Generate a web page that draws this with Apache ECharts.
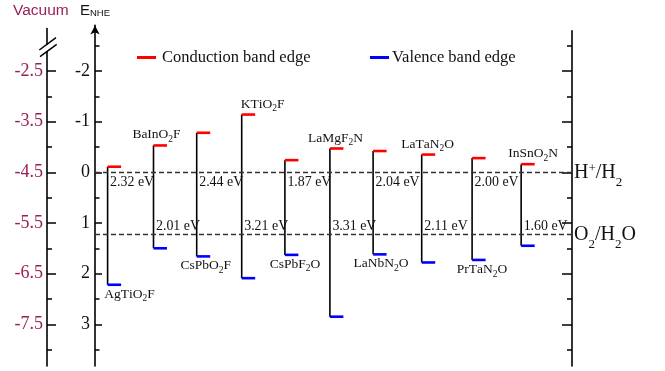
<!DOCTYPE html>
<html><head><meta charset="utf-8">
<script src="https://cdn.jsdelivr.net/npm/echarts@6/dist/echarts.min.js"></script>
<style>html,body{margin:0;padding:0;background:#fff}#c{width:665px;height:371px}</style>
</head><body><div id="c"></div>
<script>
// ---------------- data ----------------
const materials = ['AgTiO2F','BaInO2F','CsPbO2F','KTiO2F','CsPbF2O','LaMgF2N','LaNbN2O','LaTaN2O','PrTaN2O','InSnO2N'];
const xPos   = [0.28, 1.30, 2.26, 3.26, 4.22, 5.22, 6.18, 7.26, 8.38, 9.47];
const cbEdge = [-0.11, -0.53, -0.78, -1.14, -0.24, -0.47, -0.42, -0.35, -0.28, -0.16]; // E_NHE (V)
const vbEdge = [ 2.22,  1.50,  1.66,  2.09,  1.63,  2.85,  1.62,  1.78,  1.73,  1.45]; // E_NHE (V)
const gapEv  = [2.32, 2.01, 2.44, 3.21, 1.87, 3.31, 2.04, 2.11, 2.00, 1.60];
const redoxLevels = [0, 1.23];
const redoxNames  = ['H+/H2', 'O2/H2O'];
const nheTicks = [-2, -1, 0, 1, 2, 3];
const nheMinorTicks = [-2.5, -1.5, -0.5, 0.5, 1.5, 2.5, 3.5];
const vacuumTicks = [-2.5, -3.5, -4.5, -5.5, -6.5, -7.5];
const vacuumMinorTicks = [-3, -4, -5, -6, -7, -8];
const VAC_OFFSET = -4.5; // E_vac = -4.5 - E_NHE

// ---------------- style ----------------
const nameSide = ['below','above','below','above','below','above','below','above','below','above'];
const nameDx   = [22, 3, 9, 21, 10, 5.5, 8, 6, 10, 12];
const gapRow   = [0, 1, 0, 1, 0, 1, 0, 1, 0, 1];
const SERIF = "'Liberation Serif','Times New Roman',serif";
const SANS  = "'Liberation Sans',Arial,sans-serif";
const MAROON = '#9a1f57';
const RED = '#ff0000', BLUE = '#0000ff';
const Y0 = 172.3, K = 50.66, YMAX = 3.823;
const XMAX = 10.6;
function gridFor(min, left, width) {
  return {left: left, width: width, top: Y0 + K * min, height: K * (YMAX - min), containLabel: false};
}
const vacToNhe = v => VAC_OFFSET - v;
function fmtRedox(s) {
  return s.split('').map(ch => ch === '+' ? '{sup|+}' : (/\d/.test(ch) ? '{sub|' + ch + '}' : '{a|' + ch + '}')).join('');
}
function fmtName(s) {
  return s.split('').map(ch => /\d/.test(ch) ? '{s|' + ch + '}' : '{a|' + ch + '}').join('');
}

const chart = echarts.init(document.getElementById('c'), null, {renderer: 'canvas'});

const nameRich = {
  a: {fontFamily: SERIF, fontSize: 13.5, lineHeight: 19.2, verticalAlign: 'middle', fill: '#111'},
  s: {fontFamily: SERIF, fontSize: 9.5, lineHeight: 10, verticalAlign: 'bottom', fill: '#111'}
};

function renderFrame(params, api) {
  const i = params.dataIndex;
  const x = api.value(0);
  const pc = api.coord([x, api.value(1)]);
  const pv = api.coord([x, api.value(2)]);
  const yH = api.coord([x, redoxLevels[0]])[1];
  const yO = api.coord([x, redoxLevels[1]])[1];
  const gy = gapRow[i] === 0 ? yH + 10.5 : yO - 8;
  const above = nameSide[i] === 'above';
  return {
    type: 'group',
    children: [
      {type: 'line', shape: {x1: pc[0], y1: pc[1], x2: pv[0], y2: pv[1]}, style: {stroke: '#000', lineWidth: 1.6}},
      {type: 'text', style: {text: gapEv[i].toFixed(2) + ' eV', x: pc[0] + 2.5, y: gy, align: 'left', verticalAlign: 'middle',
        fontFamily: SERIF, fontSize: 13.9, fill: '#111'}},
      {type: 'text', style: {text: fmtName(materials[i]), rich: nameRich, x: pc[0] + nameDx[i],
        y: above ? pc[1] - 20.1 : pv[1] - 0.1, align: 'center', verticalAlign: 'top', fontFamily: SERIF, fontSize: 13.5, fill: '#111'}}
    ]
  };
}
function renderEdge(color) {
  return function (params, api) {
    const p = api.coord([api.value(0), api.value(1)]);
    return {type: 'line', shape: {x1: p[0], y1: p[1], x2: p[0] + 13.5, y2: p[1]}, style: {stroke: color, lineWidth: 2.6}};
  };
}

const NHE_MIN = -2.90, VAC_MIN = -2.84, RIGHT_MIN = -2.795;
const tickLine = {color: '#000', width: 1.5};
const axLine = {show: true, onZero: false, lineStyle: {color: '#000', width: 1.6}};
const noLine = {show: false, onZero: false};

const option = {
  animation: false,
  backgroundColor: '#fff',
  grid: [
    gridFor(NHE_MIN, 95, 477),
    gridFor(VAC_MIN, 47, 10),
    gridFor(RIGHT_MIN, 95, 477)
  ],
  xAxis: [
    {type: 'value', gridIndex: 0, min: 0, max: XMAX, show: false},
    {type: 'value', gridIndex: 1, min: 0, max: 1, show: false},
    {type: 'value', gridIndex: 2, min: 0, max: 1, show: false}
  ],
  yAxis: [
    { // NHE major
      type: 'value', gridIndex: 0, position: 'left', inverse: true, min: NHE_MIN, max: YMAX,
      splitLine: {show: false},
      axisLine: Object.assign({}, axLine, {symbol: ['none', 'arrow'], symbolSize: [7, 9]}),
      axisTick: {show: true, inside: true, length: 7, lineStyle: tickLine, customValues: nheTicks},
      axisLabel: {show: true, customValues: nheTicks, margin: 5, fontFamily: SERIF, fontSize: 18, color: '#111'}
    },
    { // NHE minor
      type: 'value', gridIndex: 0, position: 'left', inverse: true, min: NHE_MIN, max: YMAX,
      splitLine: {show: false}, axisLine: noLine,
      axisTick: {show: true, inside: true, length: 4.5, lineStyle: tickLine, customValues: nheMinorTicks},
      axisLabel: {show: false}
    },
    { // Vacuum major
      type: 'value', gridIndex: 1, position: 'left', inverse: true, min: VAC_MIN, max: YMAX,
      splitLine: {show: false},
      axisLine: axLine,
      axisTick: {show: true, inside: true, length: 9, lineStyle: tickLine, customValues: vacuumTicks.map(vacToNhe)},
      axisLabel: {show: true, customValues: vacuumTicks.map(vacToNhe), margin: 4, fontFamily: SERIF, fontSize: 18, color: MAROON,
        formatter: v => (VAC_OFFSET - v).toFixed(1)}
    },
    { // Vacuum minor
      type: 'value', gridIndex: 1, position: 'left', inverse: true, min: VAC_MIN, max: YMAX,
      splitLine: {show: false}, axisLine: noLine,
      axisTick: {show: true, inside: true, length: 5, lineStyle: tickLine, customValues: vacuumMinorTicks.map(vacToNhe)},
      axisLabel: {show: false}
    },
    { // right major
      type: 'value', gridIndex: 2, position: 'right', inverse: true, min: RIGHT_MIN, max: YMAX,
      splitLine: {show: false},
      axisLine: axLine,
      axisTick: {show: true, inside: true, length: 10, lineStyle: tickLine, customValues: nheTicks},
      axisLabel: {show: false}
    },
    { // right minor
      type: 'value', gridIndex: 2, position: 'right', inverse: true, min: RIGHT_MIN, max: YMAX,
      splitLine: {show: false}, axisLine: noLine,
      axisTick: {show: true, inside: true, length: 5, lineStyle: tickLine, customValues: nheMinorTicks},
      axisLabel: {show: false}
    }
  ],
  legend: [
    {data: ['Conduction band edge'], left: 137, top: 49, padding: 0, icon: 'rect', itemWidth: 19, itemHeight: 3,
      textStyle: {fontFamily: SERIF, fontSize: 16.5, color: '#111', padding: [0, 0, 0, 1]}, selectedMode: false},
    {data: ['Valence band edge'], left: 370, top: 49, padding: 0, icon: 'rect', itemWidth: 19, itemHeight: 3,
      textStyle: {fontFamily: SERIF, fontSize: 16.5, color: '#111', padding: [0, 0, 0, -2]}, selectedMode: false}
  ],
  series: [
    {
      name: 'redox', type: 'line', xAxisIndex: 0, yAxisIndex: 0, data: [], silent: true,
      markLine: {
        symbol: 'none', silent: true, animation: false,
        lineStyle: {type: [5, 3], color: '#333', width: 1.3},
        label: {show: true, position: 'end', distance: 2, offset: [0, 3.4], formatter: p => fmtRedox(p.name),
          rich: {
            a: {fontFamily: SERIF, fontSize: 20, lineHeight: 26.9, color: '#111', verticalAlign: 'top'},
            sup: {fontFamily: SERIF, fontSize: 13, lineHeight: 13, color: '#111', verticalAlign: 'top'},
            sub: {fontFamily: SERIF, fontSize: 13, lineHeight: 13, color: '#111', verticalAlign: 'bottom'}
          }},
        data: redoxLevels.map((v, i) => ({yAxis: v, name: redoxNames[i]}))
      }
    },
    {
      name: 'frame', type: 'custom', xAxisIndex: 0, yAxisIndex: 0, silent: true,
      data: xPos.map((x, i) => [x, cbEdge[i], vbEdge[i]]),
      encode: {x: 0, y: [1, 2]},
      renderItem: renderFrame, clip: false
    },
    {
      name: 'Conduction band edge', type: 'custom', xAxisIndex: 0, yAxisIndex: 0, itemStyle: {color: RED},
      data: xPos.map((x, i) => [x, cbEdge[i]]), encode: {x: 0, y: 1}, renderItem: renderEdge(RED), clip: false
    },
    {
      name: 'Valence band edge', type: 'custom', xAxisIndex: 0, yAxisIndex: 0, itemStyle: {color: BLUE},
      data: xPos.map((x, i) => [x, vbEdge[i]]), encode: {x: 0, y: 1}, renderItem: renderEdge(BLUE), clip: false
    }
  ],
  graphic: [
    {type: 'text', left: 13, top: 3, style: {text: 'Vacuum', fontFamily: SANS, fontSize: 15.5, fill: MAROON}},
    {type: 'text', left: 80, top: 3, style: {text: 'E{n|NHE}', fontFamily: SANS, fontSize: 15, fill: '#111',
      rich: {n: {fontFamily: SANS, fontSize: 9.5, fill: '#111', verticalAlign: 'bottom', lineHeight: 13}}}},
    {type: 'rect', shape: {x: 44, y: 45, width: 6, height: 6}, style: {fill: '#fff'}, z: 100},
    {type: 'line', shape: {x1: 39.3, y1: 50, x2: 56, y2: 37.7}, style: {stroke: '#000', lineWidth: 1.5}, z: 101},
    {type: 'line', shape: {x1: 40, y1: 56.7, x2: 56.7, y2: 44.3}, style: {stroke: '#000', lineWidth: 1.5}, z: 101}
  ]
};
chart.setOption(option);
</script>
</body></html>
